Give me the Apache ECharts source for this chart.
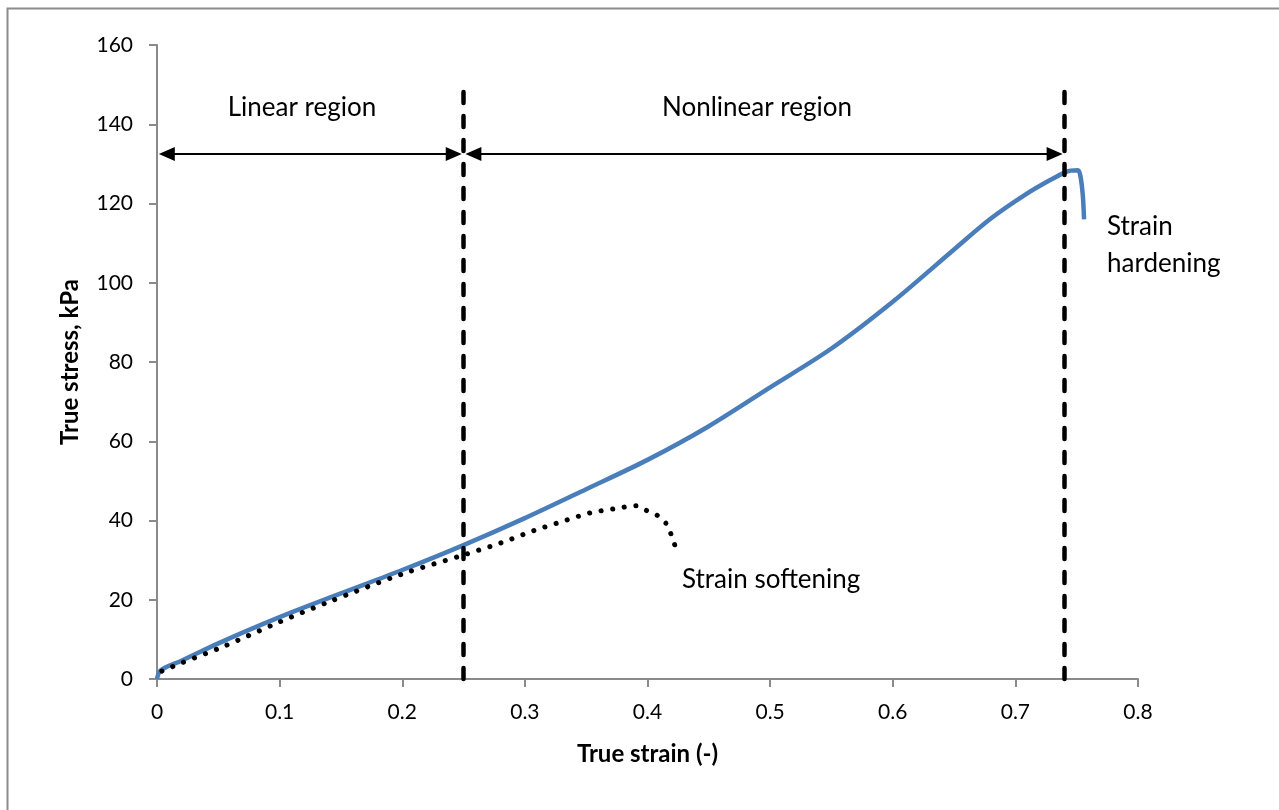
<!DOCTYPE html>
<html>
<head>
<meta charset="utf-8">
<script src="https://cdn.jsdelivr.net/npm/echarts@6/dist/echarts.min.js"></script>
<style>
  html, body { margin: 0; padding: 0; background: #fff; }
  #myChart { width: 1279px; height: 810px; }
</style>
</head>
<body>
<div id="myChart"></div>
<script>
// hardening curve (blue), strain vs stress
var hardStrain = [0, 0.003, 0.02, 0.05, 0.1, 0.15, 0.2, 0.25, 0.3, 0.35, 0.4, 0.45, 0.5, 0.55, 0.6, 0.65, 0.68, 0.71, 0.73, 0.74, 0.745, 0.751, 0.753, 0.755, 0.756];
var hardStress = [0, 2.2, 4.6, 9.0, 15.6, 21.6, 27.5, 33.8, 40.6, 47.9, 55.3, 63.8, 73.6, 83.4, 95.2, 108.4, 116.2, 122.6, 126.2, 127.8, 128.3, 128.4, 127.0, 122.0, 116.0];

// softening curve (dotted black)
var softStrain = [0.004, 0.018, 0.055, 0.1, 0.138, 0.2, 0.25, 0.28, 0.307, 0.334, 0.353, 0.372, 0.391, 0.4, 0.409, 0.416, 0.42, 0.423];
var softStress = [2.0, 3.8, 8.3, 14.4, 19.2, 26.5, 31.3, 34.3, 37.4, 40.1, 41.9, 42.9, 43.7, 42.4, 41.1, 38.9, 35.8, 33.1];

// region borders and arrow level
var regionBounds = [0, 0.25, 0.74];
var boundTop = 149;
var arrowLevel = 132.5;

var font = "Lato, 'Open Sans', sans-serif";

function pairs(xs, ys) {
  return xs.map(function (x, i) { return [x, ys[i]]; });
}

var myChart = echarts.init(document.getElementById("myChart"));

myChart.setOption({
  animation: false,
  backgroundColor: "#fff",
  grid: { left: 157, right: 141, top: 45, bottom: 131 },
  xAxis: {
    type: "value",
    min: 0,
    max: 0.8,
    interval: 0.1,
    name: "True strain (-)",
    nameLocation: "middle",
    nameGap: 63,
    nameTextStyle: { fontFamily: font, fontWeight: "bold", fontSize: 24, color: "#000" },
    axisLine: { lineStyle: { color: "#8a8a8a", width: 2 } },
    axisTick: { length: 8, lineStyle: { color: "#8a8a8a", width: 2 } },
    axisLabel: {
      margin: 23,
      fontFamily: font, fontSize: 21, color: "#000",
      formatter: function (v) { return String(+v.toFixed(1)); }
    },
    splitLine: { show: false }
  },
  yAxis: {
    type: "value",
    min: 0,
    max: 160,
    interval: 20,
    name: "True stress, kPa",
    nameLocation: "middle",
    nameGap: 75,
    nameTextStyle: { fontFamily: font, fontWeight: "bold", fontSize: 24, color: "#000" },
    axisLine: { show: true, lineStyle: { color: "#8a8a8a", width: 2 } },
    axisTick: { show: true, length: 8, lineStyle: { color: "#8a8a8a", width: 2 } },
    axisLabel: { margin: 24, fontFamily: font, fontSize: 21, color: "#000" },
    splitLine: { show: false }
  },
  series: [
    {
      name: "softening",
      type: "line",
      data: pairs(softStrain, softStress),
      smooth: 0.3,
      showSymbol: false,
      z: 3,
      lineStyle: { color: "#000", width: 5, type: [0.1, 11.6], cap: "round" }
    },
    {
      name: "hardening",
      type: "line",
      data: pairs(hardStrain, hardStress),
      smooth: 0.3,
      showSymbol: false,
      z: 2,
      lineStyle: { color: "#4a7ebb", width: 4.5 }
    },
    {
      name: "bounds",
      type: "line",
      data: [],
      z: 4,
      markLine: {
        silent: true,
        symbol: ["none", "none"],
        label: { show: false },
        lineStyle: { color: "#000", width: 4.5, type: [11, 13], cap: "round" },
        data: regionBounds.slice(1).map(function (b) {
          return [{ coord: [b, 0] }, { coord: [b, boundTop] }];
        })
      }
    },
    {
      name: "arrows",
      type: "line",
      data: [],
      z: 5,
      markLine: {
        silent: true,
        symbol: ["triangle", "triangle"],
        symbolSize: [14, 16],
        label: { show: false },
        lineStyle: { color: "#000", width: 2, type: "solid" },
        data: [
          [{ coord: [regionBounds[0] + 0.008, arrowLevel] }, { coord: [regionBounds[1] - 0.008, arrowLevel] }],
          [{ coord: [regionBounds[1] + 0.008, arrowLevel] }, { coord: [regionBounds[2] - 0.008, arrowLevel] }]
        ]
      }
    }
  ],
  graphic: [
    {
      type: "rect",
      left: 5, top: 6,
      shape: { width: 1273, height: 830 },
      style: { fill: "none", stroke: "#8c8c8c", lineWidth: 2 },
      silent: true
    },
    {
      type: "text", x: 302, y: 108,
      style: { text: "Linear region", font: "26px " + font, fill: "#000", textAlign: "center", textVerticalAlign: "middle" }
    },
    {
      type: "text", x: 757, y: 108,
      style: { text: "Nonlinear region", font: "26px " + font, fill: "#000", textAlign: "center", textVerticalAlign: "middle" }
    },
    {
      type: "text", x: 682, y: 580,
      style: { text: "Strain softening", font: "26px " + font, fill: "#000", textVerticalAlign: "middle" }
    },
    {
      type: "text", x: 1107, y: 227,
      style: { text: "Strain", font: "26px " + font, fill: "#000", textVerticalAlign: "middle" }
    },
    {
      type: "text", x: 1107, y: 264,
      style: { text: "hardening", font: "26px " + font, fill: "#000", textVerticalAlign: "middle" }
    }
  ]
});
</script>
</body>
</html>
